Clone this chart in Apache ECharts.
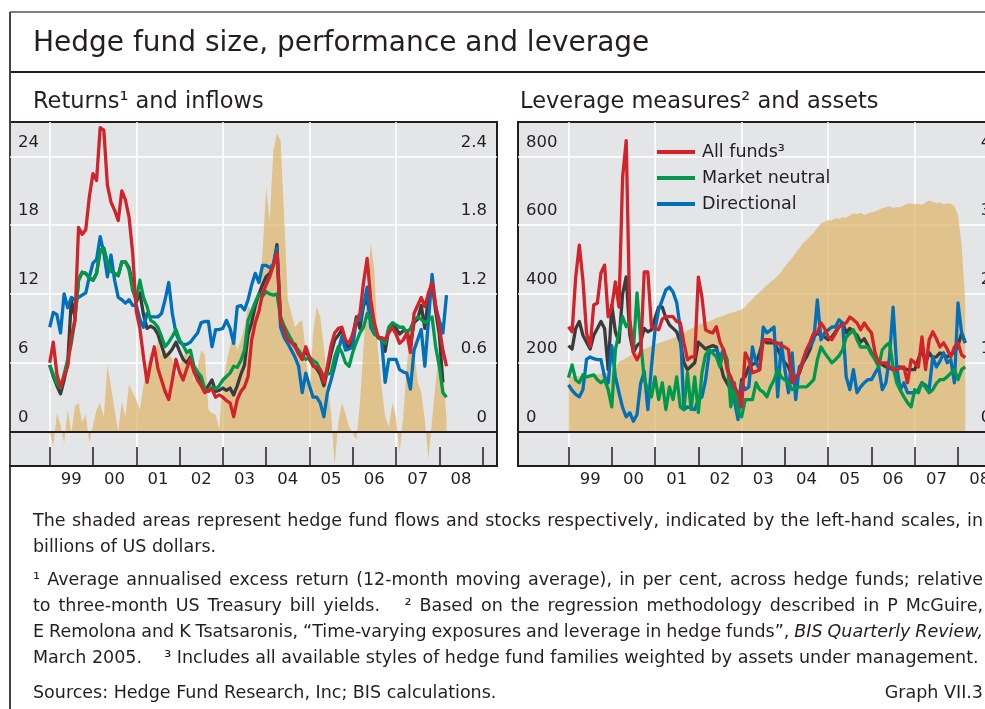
<!DOCTYPE html>
<html>
<head>
<meta charset="utf-8">
<title>Hedge fund size, performance and leverage</title>
<script src="https://cdn.jsdelivr.net/npm/echarts@6.0.0/dist/echarts.min.js"></script>
<style>
  html, body { margin: 0; padding: 0; background: #fff; overflow: hidden; }
  /* a bit wider than the window: the right panel runs off the edge, as in the original */
  #chart { width: 1010px; height: 709px; }
</style>
</head>
<body>
<div id="chart"></div>
<script>
  // monthly values, Jan 1999 .. Mar 2008 (111 months)
  const flows = [0.0, -1.3, 1.6, 0.6, -1.0, 1.9, -0.1, 2.2, 2.5, 0.8, 1.5, -1.0, 0.5, 1.9, 2.5, 1.3, 5.8, 3.9, 1.9, 0.0,
    2.6, 1.3, 4.1, 3.4, 2.8, 1.9, 4.0, 5.7, 6.9, 5.7, 8.0, 6.7, 7.1, 6.8, 6.3, 4.8, 5.7, 6.5, 7.3, 7.1,
    4.3, 5.5, 7.1, 6.7, 1.9, 1.6, 1.5, 0.2, 4.3, 6.0, 7.4, 8.6, 7.1, 8.0, 9.1, 10.9, 10.5, 11.0, 12.1, 15.5,
    21.3, 18.4, 24.5, 26.0, 25.4, 18.7, 11.5, 10.3, 9.1, 9.5, 9.7, 6.9, 3.0, 8.6, 10.9, 10.0, 7.4, 4.3, 1.6, -2.9,
    0.8, 2.5, 1.6, 0.4, -0.1, -0.7, 2.5, 7.4, 12.0, 16.4, 14.1, 7.1, 3.9, 1.3, 0.4, 2.5, 1.3, -1.8, 1.3, 5.7,
    9.1, 7.1, 4.3, 3.4, 1.0, -2.4, 1.0, 4.3, 7.1, 5.7, 1.0]
  const returnsAll = [6.0, 7.8, 5.0, 3.9, 4.8, 5.7, 8.3, 9.7, 17.8, 17.2, 17.6, 20.5, 22.5, 21.9, 26.5, 26.3, 21.5, 20.0, 19.3, 18.4,
    21.0, 20.2, 18.7, 15.6, 10.5, 9.0, 6.5, 4.3, 6.0, 7.4, 5.5, 4.5, 3.5, 2.8, 4.5, 6.3, 5.2, 4.5, 5.5, 6.3,
    5.2, 4.5, 4.0, 3.4, 3.6, 3.7, 3.0, 3.2, 3.0, 2.7, 2.5, 1.3, 2.8, 3.5, 3.9, 4.8, 8.0, 9.5, 10.5, 12.0,
    12.8, 13.5, 14.5, 15.6, 9.7, 8.9, 8.0, 7.8, 7.4, 6.8, 6.3, 7.4, 6.5, 5.7, 5.6, 5.4, 4.3, 5.7, 7.5, 8.6,
    9.0, 9.1, 8.0, 7.7, 8.5, 9.7, 10.3, 13.0, 15.1, 11.5, 9.5, 8.3, 8.2, 8.0, 8.6, 9.1, 8.5, 7.7, 8.0, 8.6,
    6.9, 10.3, 11.0, 11.7, 10.9, 12.1, 13.0, 11.0, 9.1, 7.1, 5.7]
  const returnsNeutral = [5.8, 5.0, 4.2, 3.8, 5.0, 6.3, 7.7, 9.7, 13.2, 13.9, 13.8, 13.4, 13.2, 13.8, 15.8, 16.0, 14.7, 14.0, 13.8, 13.6,
    14.8, 14.8, 14.1, 12.3, 11.5, 13.2, 11.7, 10.9, 9.7, 9.5, 9.1, 8.3, 7.4, 7.8, 8.3, 8.9, 8.0, 7.5, 6.9, 7.1,
    5.7, 5.2, 4.8, 3.7, 3.5, 3.9, 3.7, 4.0, 4.5, 4.8, 5.1, 5.7, 5.6, 6.2, 7.1, 9.7, 10.5, 11.3, 12.0, 11.8,
    12.2, 12.0, 11.9, 12.0, 10.0, 9.2, 8.6, 8.0, 7.4, 7.1, 6.6, 6.3, 6.5, 6.2, 6.0, 5.4, 4.8, 5.0, 5.1, 6.5,
    7.4, 6.9, 6.0, 5.7, 6.9, 7.8, 8.6, 9.1, 10.3, 9.7, 8.6, 8.3, 8.0, 7.7, 9.1, 9.5, 9.3, 9.1, 9.1, 8.6,
    9.0, 9.7, 10.0, 9.8, 9.5, 9.7, 10.0, 7.4, 5.7, 3.4, 3.0]
  const returnsDirectional = [9.1, 10.4, 10.2, 8.6, 12.0, 10.8, 11.7, 11.5, 11.7, 11.9, 12.1, 13.5, 14.7, 15.0, 17.0, 15.6, 13.5, 15.4, 13.2, 11.7,
    11.5, 11.2, 11.5, 11.0, 11.0, 9.8, 9.1, 10.3, 10.0, 10.0, 10.0, 10.3, 11.5, 13.0, 10.3, 8.6, 7.8, 7.6, 7.6, 7.8,
    8.2, 8.6, 9.5, 9.6, 9.6, 7.4, 8.9, 8.9, 9.0, 9.7, 9.0, 7.7, 10.9, 11.0, 10.6, 11.5, 12.8, 13.8, 13.0, 14.5,
    14.5, 14.3, 14.6, 16.0, 9.1, 8.2, 7.7, 7.1, 6.5, 5.7, 3.4, 5.1, 4.0, 3.0, 3.0, 2.5, 1.3, 3.4, 4.5, 5.7,
    7.0, 8.3, 7.1, 7.2, 7.4, 9.7, 9.7, 11.0, 12.6, 9.1, 8.5, 8.3, 8.0, 4.3, 6.3, 6.3, 6.3, 5.4, 5.2, 5.1,
    3.7, 7.1, 8.0, 8.9, 5.7, 9.7, 13.7, 10.9, 9.7, 8.6, 11.9]
  const returnsOther = [5.8, 4.8, 4.0, 3.3, 4.5, 6.0, 11.5, 10.0, 13.2, 13.9, 13.8, 13.4, 13.2, 13.8, 15.8, 16.0, 14.7, 14.0, 13.8, 13.6,
    14.8, 14.8, 14.3, 12.8, 11.3, 12.1, 10.2, 9.0, 9.2, 9.0, 8.5, 7.5, 6.5, 6.8, 7.2, 7.8, 7.0, 6.3, 6.0, 6.5,
    5.5, 5.0, 4.5, 3.5, 4.0, 4.5, 3.5, 3.6, 3.8, 3.6, 3.8, 3.2, 4.0, 5.0, 5.8, 8.5, 9.5, 11.0, 12.0, 12.8,
    13.5, 13.8, 14.5, 16.3, 9.8, 9.0, 8.3, 7.8, 7.6, 6.8, 6.3, 7.2, 6.3, 5.8, 5.5, 5.0, 4.0, 5.3, 6.8, 8.0,
    8.4, 8.9, 7.6, 7.3, 8.3, 10.0, 9.0, 11.0, 11.5, 9.8, 8.8, 8.2, 8.0, 7.0, 9.0, 9.4, 9.0, 8.5, 8.8, 8.8,
    7.5, 9.5, 9.8, 11.0, 9.0, 11.8, 13.0, 10.5, 8.5, 4.3, null]

  const assets = [159, 160, 161, 160, 162, 163, 164, 165, 166, 168, 170, 173, 176, 188, 203, 208, 214, 220, 226, 231,
    236, 240, 244, 249, 253, 257, 261, 264, 268, 272, 276, 282, 288, 294, 299, 305, 310, 315, 318, 321,
    325, 330, 333, 337, 342, 345, 348, 351, 354, 362, 375, 385, 397, 404, 415, 426, 434, 443, 452, 465,
    480, 492, 505, 520, 533, 548, 557, 568, 578, 592, 605, 610, 615, 614, 620, 618, 624, 622, 628, 635,
    632, 636, 630, 634, 638, 640, 645, 649, 652, 655, 650, 653, 652, 658, 662, 664, 660, 662, 658, 666,
    672, 668, 664, 666, 661, 664, 662, 655, 630, 540, 380]
  const leverageAll = [305, 290, 449, 542, 441, 287, 247, 368, 374, 461, 484, 334, 362, 435, 362, 739, 846, 330, 229, 209,
    230, 464, 464, 305, 300, 296, 327, 334, 334, 334, 320, 316, 258, 209, 217, 217, 449, 391, 296, 290,
    287, 305, 260, 238, 180, 159, 130, 113, 72, 229, 209, 171, 175, 180, 267, 267, 267, 260, 258, 250,
    246, 238, 142, 160, 171, 209, 238, 260, 287, 287, 316, 300, 275, 267, 285, 305, 310, 316, 333, 325,
    316, 296, 316, 300, 287, 229, 200, 200, 200, 190, 180, 180, 185, 188, 142, 209, 200, 188, 275, 180,
    267, 290, 270, 246, 258, 240, 217, 246, 258, 223, 215]
  const leverageNeutral = [157, 194, 150, 142, 165, 159, 162, 165, 151, 142, 151, 122, 72, 238, 287, 334, 305, 316, 238, 403,
    267, 151, 122, 101, 159, 93, 142, 64, 130, 93, 159, 72, 64, 171, 64, 159, 55, 171, 223, 238,
    228, 217, 188, 238, 209, 72, 142, 55, 43, 93, 93, 93, 142, 122, 115, 101, 130, 150, 180, 159,
    150, 142, 122, 128, 130, 130, 130, 140, 151, 209, 246, 229, 215, 200, 209, 220, 238, 275, 285, 296,
    267, 246, 246, 246, 225, 209, 188, 238, 250, 258, 188, 142, 120, 101, 84, 72, 122, 113, 142, 128,
    113, 122, 140, 151, 151, 159, 170, 180, 151, 180, 188]
  const leverageDirectional = [136, 120, 108, 101, 122, 210, 217, 212, 209, 209, 159, 142, 250, 160, 113, 70, 43, 55, 30, 50,
    140, 175, 64, 188, 296, 354, 383, 412, 420, 405, 375, 300, 64, 72, 68, 64, 93, 101, 150, 229,
    235, 238, 217, 238, 188, 142, 90, 35, 142, 122, 130, 246, 200, 180, 304, 287, 295, 304, 101, 258,
    180, 113, 229, 93, 188, 200, 238, 250, 267, 383, 267, 287, 295, 304, 304, 325, 316, 159, 122, 180,
    113, 130, 142, 151, 151, 170, 188, 122, 142, 217, 362, 188, 122, 142, 113, 113, 113, 122, 142, 135,
    122, 217, 188, 205, 229, 200, 209, 142, 374, 287, 258]
  const leverageOther = [250, 240, 300, 320, 280, 260, 240, 280, 300, 320, 300, 180, 368, 290, 260, 400, 450, 280, 230, 250,
    260, 300, 290, 296, 330, 362, 362, 330, 310, 300, 290, 260, 200, 180, 190, 200, 260, 250, 240, 246,
    250, 246, 200, 159, 140, 122, 100, 64, 151, 160, 188, 195, 200, 230, 267, 258, 258, 258, 240, 217,
    200, 188, 159, 151, 170, 200, 217, 240, 275, 287, 280, 275, 267, 275, 290, 304, 316, 287, 300, 290,
    280, 260, 270, 250, 229, 215, 200, 195, 188, 185, 180, 185, 188, 183, 180, 180, 180, 210, 238, 200,
    229, 215, 217, 229, 223, 217, 225, 229, 250, 287, 258]

  const returnTicks = [0, 6, 12, 18, 24]
  const flowTicks = ['0', '0.6', '1.2', '1.8', '2.4']
  const leverageTicks = [0, 200, 400, 600, 800]
  const assetTicks = ['0', '1', '2', '3', '4']

  const FONT = '"DejaVu Sans", "Liberation Sans", sans-serif'
  const INK = '#231f20'
  const PANEL_BG = '#e4e5e7'
  const SHADE = 'rgba(222, 180, 105, 0.72)'
  const RED = '#d2232a'
  const GREEN = '#00994c'
  const BLUE = '#0070ba'
  const DARK = '#3b3b3b'

  const months = (year, month, count) => {
    const out = []
    for (let i = 0; i < count; i++) {
      const k = month - 1 + i
      out.push(year + Math.floor(k / 12) + '-' + String((k % 12) + 1).padStart(2, '0'))
    }
    return out
  }
  // left panel starts Feb 1998, right panel Nov 1997 (frame margins before the data)
  const leftMonths = months(1998, 2, 136)
  const rightMonths = months(1997, 11, 135)
  const place = (values, cats) => {
    const lead = cats.indexOf('1999-01')
    return cats.map((c, i) => (i >= lead && i - lead < values.length ? values[i - lead] : null))
  }
  const yearOf = (v) => +v.slice(0, 4)

  const monthAxis = (gridIndex, data) => ({
    type: 'category',
    gridIndex,
    data,
    boundaryGap: false,
    axisLine: { onZero: false, lineStyle: { color: INK, width: 2 } },
    axisTick: {
      inside: true,
      length: 19,
      interval: (i, v) => v.endsWith('-01') && yearOf(v) >= 1999,
      lineStyle: { color: INK, width: 1.5 }
    },
    axisLabel: {
      interval: (i, v) => v.endsWith('-07') && yearOf(v) >= 1999,
      formatter: (v) => v.slice(2, 4),
      color: INK,
      fontSize: 16.5,
      fontFamily: FONT,
      margin: 5
    },
    splitLine: {
      show: true,
      interval: (i, v) => v.endsWith('-01') && yearOf(v) % 2 === 1 && yearOf(v) < 2009,
      lineStyle: { color: '#fff', width: 1.5 }
    }
  })

  const valueAxis = (gridIndex, position, min, max, step, formatter, grid) => ({
    type: 'value',
    gridIndex,
    position,
    min,
    max,
    interval: step,
    axisLine: { show: false },
    axisTick: { show: false },
    axisLabel: {
      inside: true,
      margin: position === 'left' ? 8 : 10,
      formatter,
      verticalAlign: 'bottom',
      lineHeight: 28,
      color: INK,
      fontSize: 16.5,
      fontFamily: FONT
    },
    // every second step is a visible grid line
    splitLine: grid ? { show: true, lineStyle: { color: ['rgba(0,0,0,0)', '#fff'], width: 1.5 } } : { show: false }
  })

  const line = (name, data, color, xi, yi, z, extra) =>
    Object.assign(
      {
        name,
        type: 'line',
        xAxisIndex: xi,
        yAxisIndex: yi,
        data,
        symbol: 'none',
        showSymbol: false,
        z,
        lineStyle: { color, width: 3.3, join: 'round' },
        itemStyle: { color },
        emphasis: { disabled: true },
        animation: false
      },
      extra || {}
    )
  const shade = (name, data, xi, yi) => ({
    name,
    type: 'line',
    xAxisIndex: xi,
    yAxisIndex: yi,
    data,
    symbol: 'none',
    showSymbol: false,
    z: 1,
    lineStyle: { width: 0 },
    areaStyle: { color: SHADE, opacity: 1 },
    emphasis: { disabled: true },
    animation: false
  })
  const zeroLine = {
    silent: true,
    symbol: ['none', 'none'],
    label: { show: false },
    lineStyle: { color: INK, width: 2, type: 'solid' },
    data: [{ yAxis: 0 }],
    animation: false
  }

  // footnotes, justified to the right margin
  const NOTE_LEFT = 33
  const NOTE_RIGHT = 983
  const NOTE_FONT = '17.5px "DejaVu Sans"'
  const NOTE_ITALIC = 'italic 17.5px "DejaVu Sans"'
  const ctx = document.createElement('canvas').getContext('2d')
  const measure = (t, font) => {
    ctx.font = font
    return ctx.measureText(t).width
  }
  const noteLine = (words, y, justify) => {
    const items = words.map((w) => (typeof w === 'string' ? { t: w, font: NOTE_FONT } : { t: w.i, font: NOTE_ITALIC }))
    const widths = items.map((it) => measure(it.t, it.font))
    const total = widths.reduce((a, b) => a + b, 0)
    const gap = justify ? (NOTE_RIGHT - NOTE_LEFT - total) / (items.length - 1) : measure(' ', NOTE_FONT)
    let x = NOTE_LEFT
    return items.map((it, i) => {
      const el = { type: 'text', x, y, silent: true, style: { text: it.t, font: it.font, fill: INK, verticalAlign: 'middle' } }
      x += widths[i] + gap
      return el
    })
  }
  const words = (s) => s.split(' ')
  const notes = [].concat(
    noteLine(words('The shaded areas represent hedge fund flows and stocks respectively, indicated by the left-hand scales, in'), 521, true),
    noteLine(words('billions of US dollars.'), 547, false),
    noteLine(words('¹ Average annualised excess return (12-month moving average), in per cent, across hedge funds; relative'), 580, true),
    noteLine(['to', 'three-month', 'US', 'Treasury', 'bill', 'yields.', '   ²', 'Based', 'on', 'the', 'regression', 'methodology', 'described', 'in', 'P', 'McGuire,'], 606, true),
    noteLine(words('E Remolona and K Tsatsaronis, “Time-varying exposures and leverage in hedge funds”,').concat([{ i: 'BIS' }, { i: 'Quarterly' }, { i: 'Review,' }]), 632, true),
    noteLine(['March', '2005.', '   ³', 'Includes'].concat(words('all available styles of hedge fund families weighted by assets under management.')), 658, false),
    noteLine(words('Sources: Hedge Fund Research, Inc; BIS calculations.'), 693, false)
  )

  const chart = echarts.init(document.getElementById('chart'))
  chart.setOption({
    animation: false,
    textStyle: { fontFamily: FONT },
    grid: [
      { left: 10, top: 122, width: 487, height: 344, show: true, backgroundColor: PANEL_BG, borderColor: INK, borderWidth: 2 },
      { left: 518, top: 122, width: 483.3, height: 344, show: true, backgroundColor: PANEL_BG, borderColor: INK, borderWidth: 2 }
    ],
    xAxis: [monthAxis(0, leftMonths), monthAxis(1, rightMonths)],
    yAxis: [
      valueAxis(0, 'left', -3, 27, 3, (v) => (returnTicks.includes(v) ? String(v) : ''), true),
      valueAxis(0, 'right', -0.3, 2.7, 0.3, (v) => {
        const k = Math.round(v * 10)
        return k >= 0 && k % 6 === 0 ? flowTicks[k / 6] || '' : ''
      }, false),
      valueAxis(1, 'left', -100, 900, 100, (v) => (leverageTicks.includes(v) ? String(v) : ''), true),
      valueAxis(1, 'right', -0.5, 4.5, 0.5, (v) => {
        const k = Math.round(v * 2)
        return k >= 0 && k % 2 === 0 ? assetTicks[k / 2] || '' : ''
      }, false)
    ],
    legend: {
      data: ['All funds', 'Market neutral', 'Directional'],
      orient: 'vertical',
      left: 657,
      top: 142,
      padding: 0,
      icon: 'rect',
      itemWidth: 38,
      itemHeight: 4,
      itemGap: 6,
      selectedMode: false,
      itemStyle: { borderWidth: 0 },
      formatter: (n) => (n === 'All funds' ? 'All funds³' : n),
      textStyle: { color: INK, fontSize: 17.5, fontFamily: FONT, lineHeight: 20, padding: [0, 0, 0, 2] }
    },
    series: [
      shade('Flows', place(flows, leftMonths), 0, 0),
      line('Other', place(returnsOther, leftMonths), DARK, 0, 0, 2, { markLine: zeroLine }),
      line('Directional', place(returnsDirectional, leftMonths), BLUE, 0, 0, 3),
      line('Market neutral', place(returnsNeutral, leftMonths), GREEN, 0, 0, 4),
      line('All funds', place(returnsAll, leftMonths), RED, 0, 0, 5),

      shade('Assets', place(assets, rightMonths), 1, 2),
      line('Other', place(leverageOther, rightMonths), DARK, 1, 2, 2, { markLine: zeroLine }),
      line('Directional', place(leverageDirectional, rightMonths), BLUE, 1, 2, 3),
      line('Market neutral', place(leverageNeutral, rightMonths), GREEN, 1, 2, 4),
      line('All funds', place(leverageAll, rightMonths), RED, 1, 2, 5)
    ],
    graphic: {
      elements: [
        { type: 'line', silent: true, shape: { x1: 10, y1: 12, x2: 1010, y2: 12 }, style: { stroke: '#555', lineWidth: 1.5 } },
        { type: 'line', silent: true, shape: { x1: 10, y1: 72, x2: 1010, y2: 72 }, style: { stroke: INK, lineWidth: 2 } },
        { type: 'line', silent: true, shape: { x1: 10, y1: 12, x2: 10, y2: 709 }, style: { stroke: '#444', lineWidth: 2 } },
        { type: 'text', silent: true, x: 33, y: 44, style: { text: 'Hedge fund size, performance and leverage', font: '28px "DejaVu Sans"', fill: INK, verticalAlign: 'middle' } },
        { type: 'text', silent: true, x: 33, y: 102, style: { text: 'Returns¹ and inflows', font: '22.5px "DejaVu Sans"', fill: INK, verticalAlign: 'middle' } },
        { type: 'text', silent: true, x: 520, y: 102, style: { text: 'Leverage measures² and assets', font: '22.5px "DejaVu Sans"', fill: INK, verticalAlign: 'middle' } },
        { type: 'text', silent: true, x: 983, y: 693, style: { text: 'Graph VII.3', font: NOTE_FONT, fill: INK, align: 'right', verticalAlign: 'middle' } }
      ].concat(notes)
    }
  })
</script>
</body>
</html>
